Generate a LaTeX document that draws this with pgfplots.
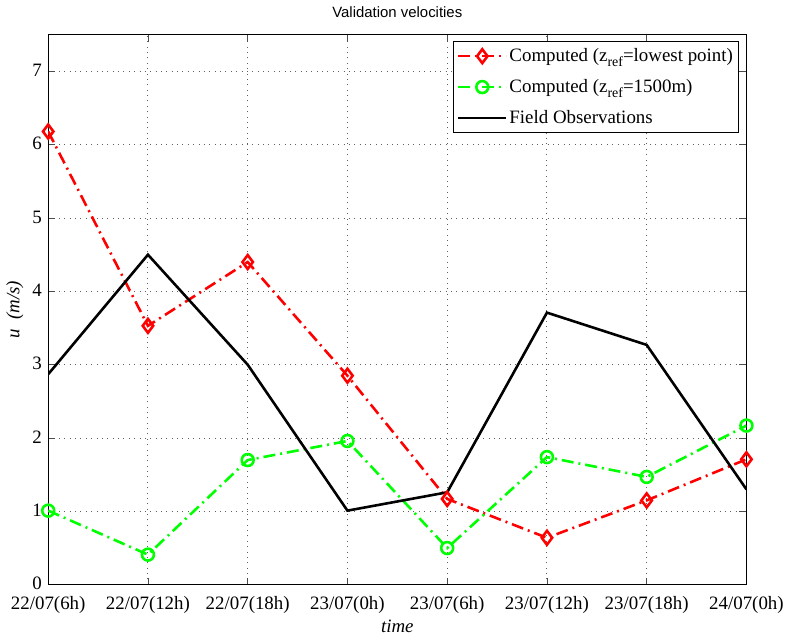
\documentclass[border=0pt]{standalone}
\usepackage{pgfplots}
\pgfplotsset{compat=1.18}
\usepackage{fontspec}
\setmainfont{Liberation Serif}
\setsansfont{Liberation Sans}
\newcommand{\zref}{z\raisebox{-0.6ex}{\fontsize{14}{16}\selectfont ref}}
\begin{document}
\fontsize{19}{22}\selectfont
\begin{tikzpicture}
\begin{axis}[
  scale only axis, width=702pt, height=553pt,
  xmin=0, xmax=7, ymin=0, ymax=7.5,
  xtick={0,...,7},
  xticklabels={22/07(6h),22/07(12h),22/07(18h),23/07(0h),23/07(6h),23/07(12h),23/07(18h),24/07(0h)},
  ytick={0,...,7},
  tick align=inside, major tick length=7pt,
  tick style={line width=0.8pt, gray!60!black},
  grid=major, grid style={gray!75!black, line width=0.9pt, dash pattern=on 0.9pt off 4.5pt},
  axis line style={line width=1.3pt},
  title={\sffamily\fontsize{15}{18}\selectfont Validation velocities},
  title style={yshift=5pt},
  xlabel={\textit{time}}, ylabel={\textit{u\ \ (m/s)}},
  xlabel style={yshift=6pt},
  ylabel style={yshift=-4pt},
  xticklabel style={yshift=-5pt},
  yticklabel style={yshift=1pt},
  /pgf/number format/assume math mode=true,
  ticklabel style={font=\fontsize{19}{22}\selectfont},
  label style={font=\fontsize{19}{22}\selectfont},
  legend style={at={(1,1)}, anchor=north east, xshift=-7pt, yshift=-6pt,
    draw=black, line width=1.2pt, fill=white, font=\fontsize{19}{22}\selectfont,
    row sep=11pt, inner xsep=4pt, inner ysep=5pt},
  legend cell align=left,
  legend image code/.code={\draw[mark repeat=2,mark phase=2,#1] plot coordinates {(0pt,0pt) (24pt,0pt) (48pt,0pt)};},
]
\addplot[red, line width=2.6pt, dash pattern=on 12pt off 5pt on 2pt off 5pt,
  mark=diamond, mark size=7pt, mark options={solid, fill=white, line width=2.6pt}]
  coordinates {(0,6.18) (1,3.53) (2,4.40) (3,2.85) (4,1.17) (5,0.64) (6,1.15) (7,1.71)};
\addlegendentry{Computed (\zref=lowest point)}
\addplot[green, line width=2.6pt, dash pattern=on 12pt off 5pt on 2pt off 5pt,
  mark=o, mark size=6pt, mark options={solid, fill=white, line width=2.6pt}]
  coordinates {(0,1.01) (1,0.41) (2,1.70) (3,1.96) (4,0.50) (5,1.74) (6,1.47) (7,2.17)};
\addlegendentry{Computed (\zref=1500m)}
\addplot[black, line width=2.6pt]
  coordinates {(0,2.87) (1,4.50) (2,3.00) (3,1.01) (4,1.26) (5,3.71) (6,3.27) (7,1.30)};
\addlegendentry{Field Observations}
\end{axis}
\end{tikzpicture}
\end{document}
